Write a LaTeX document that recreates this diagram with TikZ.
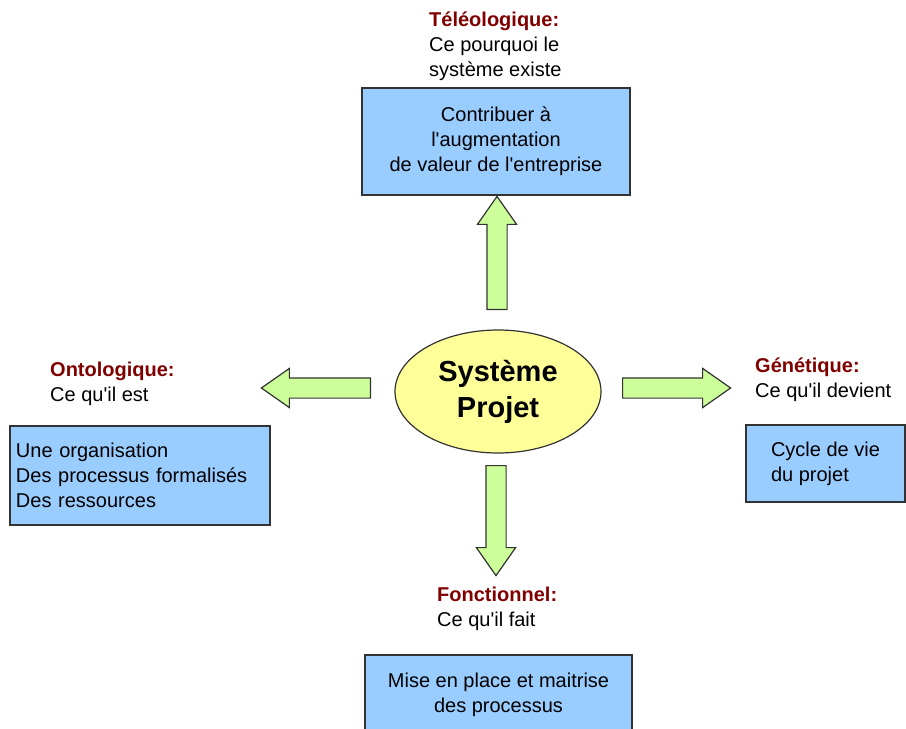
\documentclass[tikz,border=0pt]{standalone}
\usepackage{fontspec}
\setmainfont{Liberation Sans}
\usetikzlibrary{positioning,shapes.geometric,shapes.arrows}
\definecolor{boxblue}{HTML}{99CCFF}
\definecolor{sysyellow}{HTML}{FFFF99}
\definecolor{arrgreen}{HTML}{CCFF99}
\definecolor{headred}{HTML}{800000}
\definecolor{edgegray}{HTML}{333333}
\newcommand{\aspecthead}[1]{\textbf{\textcolor{headred}{#1}}}
\newcommand{\sq}{\textquotesingle}

\begin{document}
\begin{tikzpicture}[x=1pt, y=-1pt,
	txt/.style={font=\fontsize{20}{25}\selectfont},
	aspect/.style={txt, align=left, anchor=north west, inner sep=0pt},
	box/.style={txt, rectangle, draw=edgegray, fill=boxblue, line width=1.2pt, inner sep=0pt},
	bigarrow/.style={single arrow, draw=edgegray, fill=arrgreen, line width=1.2pt, inner sep=9.5pt,
		single arrow head extend=9.5pt, single arrow tip angle=70, anchor=tail}]
	\useasboundingbox (0,0) rectangle (906,729);
	\clip (0,0) rectangle (906,729);

	% centre
	\node[ellipse, draw=edgegray, fill=sysyellow, line width=1.2pt, minimum width=206pt, minimum height=123pt,
		font=\fontsize{29}{36}\selectfont\bfseries, align=center] (sys) at (498,391.5) {Système\\Projet};

	% teleologique
	\node[aspect] (teleo) at (429,12) {\aspecthead{Téléologique:}\\Ce pourquoi le\\système existe};
	\node[box, minimum width=268pt, minimum height=107pt, align=center] (b_teleo) at (496,141.5)
		{Contribuer à\\l\sq augmentation\\de valeur de l\sq entreprise};

	% ontologique
	\node[aspect] (onto) at (50,362) {\aspecthead{Ontologique:}\\Ce qu\sq il est};
	\node[box, minimum width=260pt, minimum height=99pt, text width=248pt, align=left] (b_onto) at (140,475.5)
		{Une organisation\\Des processus formalisés\\Des ressources};

	% genetique
	\node[aspect] (gene) at (755,358) {\aspecthead{Génétique:}\\Ce qu\sq il devient};
	\node[box, minimum width=159pt, minimum height=77pt, align=left] (b_gene) at (825.5,463.5)
		{Cycle de vie\\du projet};

	% fonctionnel
	\node[aspect] (fonc) at (437,587) {\aspecthead{Fonctionnel:}\\Ce qu\sq il fait};
	\node[box, minimum width=267pt, minimum height=80pt, align=center] (b_fonc) at (498.5,695)
		{Mise en place et maitrise\\des processus};

	% fleches
	\node[bigarrow, minimum height=113pt, rotate=90] (a_up) at (497,310) {};
	\node[bigarrow, minimum height=110pt, rotate=-90] (a_down) at (496,465) {};
	\node[bigarrow, minimum height=109pt, rotate=180] (a_left) at (371,388) {};
	\node[bigarrow, minimum height=108pt] (a_right) at (622,388) {};
\end{tikzpicture}
\end{document}
